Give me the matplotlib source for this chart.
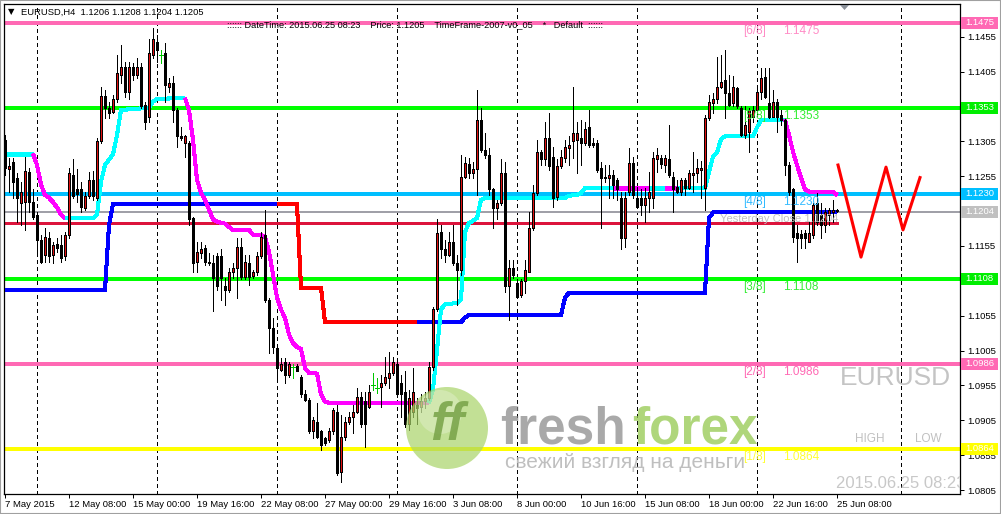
import matplotlib
matplotlib.use("Agg")
import matplotlib.pyplot as plt
import matplotlib.transforms as mtransforms
from matplotlib.patches import Rectangle, Circle, Polygon

W, H = 1001, 514

# ------------------------------------------------------------------ data
opens = [
    1.1307, 1.1266, 1.1276, 1.1253, 1.1217, 1.1218, 1.1261, 1.1218, 1.1200, 1.1164,
    1.1142, 1.1167, 1.1142, 1.1158, 1.1157, 1.1140, 1.1170, 1.1257, 1.1237, 1.1237,
    1.1210, 1.1227, 1.1249, 1.1224, 1.1305, 1.1370, 1.1353, 1.1347, 1.1365, 1.1400,
    1.1412, 1.1376, 1.1411, 1.1400, 1.1411, 1.1357, 1.1340, 1.1429, 1.1448, 1.1429,
    1.1432, 1.1383, 1.1389, 1.1350, 1.1313, 1.1303, 1.1303, 1.1195, 1.1132, 1.1145,
    1.1152, 1.1132, 1.1131, 1.1140, 1.1140, 1.1097, 1.1092, 1.1117, 1.1124, 1.1154,
    1.1111, 1.1131, 1.1112, 1.1117, 1.1140, 1.1171, 1.1078, 1.1038, 1.1009, 1.0977,
    1.0988, 1.0970, 1.0982, 1.0983, 1.0967, 1.0942, 1.0934, 1.0889, 1.0903, 1.0889,
    1.0880, 1.0877, 1.0889, 1.0917, 1.0831, 1.0881, 1.0903, 1.0909, 1.0917, 1.0939,
    1.0932, 1.0924, 1.0956, 1.0952, 1.0953, 1.0959, 1.0966, 1.0973, 1.0985, 1.0959,
    1.0946, 1.0899, 1.0917, 1.0927, 1.0924, 1.0932, 1.0937, 1.0982, 1.1064, 1.1175,
    1.1150, 1.1142, 1.1161, 1.1131, 1.1121, 1.1254, 1.1273, 1.1260, 1.1266, 1.1336,
    1.1293, 1.1286, 1.1236, 1.1210, 1.1217, 1.1259, 1.1097, 1.1124, 1.1102, 1.1085,
    1.1104, 1.1118, 1.1181, 1.1231, 1.1290, 1.1279, 1.1310, 1.1283, 1.1225, 1.1269,
    1.1281, 1.1296, 1.1305, 1.1307, 1.1310, 1.1303, 1.1326, 1.1303, 1.1303, 1.1267,
    1.1253, 1.1253, 1.1256, 1.1250, 1.1224, 1.1167, 1.1233, 1.1274, 1.1224, 1.1224,
    1.1214, 1.1224, 1.1224, 1.1279, 1.1281, 1.1271, 1.1280, 1.1254, 1.1240, 1.1233,
    1.1249, 1.1238, 1.1256, 1.1260, 1.1264, 1.1238, 1.1339, 1.1360, 1.1365, 1.1383,
    1.1393, 1.1375, 1.1360, 1.1382, 1.1353, 1.1314, 1.1319, 1.1340, 1.1350, 1.1376,
    1.1397, 1.1360, 1.1340, 1.1362, 1.1343, 1.1336, 1.1271, 1.1236, 1.1174, 1.1172,
    1.1174, 1.1161, 1.1171, 1.1217, 1.1200, 1.1185, 1.1200, 1.1203, 1.1206,
]
closes = [
    1.1267, 1.1269, 1.1246, 1.1224, 1.1233, 1.1263, 1.1218, 1.1197, 1.1164, 1.1132,
    1.1168, 1.1140, 1.1157, 1.1152, 1.1138, 1.1170, 1.1259, 1.1227, 1.1230, 1.1211,
    1.1227, 1.1249, 1.1227, 1.1306, 1.1370, 1.1353, 1.1346, 1.1365, 1.1403, 1.1412,
    1.1376, 1.1411, 1.1400, 1.1411, 1.1355, 1.1333, 1.1432, 1.1451, 1.1436, 1.1429,
    1.1386, 1.1389, 1.1350, 1.1312, 1.1310, 1.1312, 1.1193, 1.1131, 1.1147, 1.1150,
    1.1132, 1.1131, 1.1109, 1.1097, 1.1109, 1.1092, 1.1117, 1.1124, 1.1154, 1.1111,
    1.1132, 1.1111, 1.1117, 1.1140, 1.1168, 1.1078, 1.1038, 1.1010, 1.0980, 1.0985,
    1.0970, 1.0985, 1.0982, 1.0976, 1.0942, 1.0934, 1.0890, 1.0906, 1.0881, 1.0870,
    1.0873, 1.0889, 1.0920, 1.0830, 1.0881, 1.0903, 1.0910, 1.0917, 1.0939, 1.0899,
    1.0899, 1.0946, 1.0956, 1.0952, 1.0959, 1.0967, 1.0973, 1.0988, 1.0942, 1.0942,
    1.0899, 1.0937, 1.0946, 1.0923, 1.0932, 1.0937, 1.0982, 1.1064, 1.1174, 1.1150,
    1.1142, 1.1161, 1.1131, 1.1121, 1.1254, 1.1274, 1.1260, 1.1266, 1.1336, 1.1293,
    1.1286, 1.1236, 1.1210, 1.1217, 1.1259, 1.1097, 1.1124, 1.1114, 1.1082, 1.1104,
    1.1121, 1.1181, 1.1231, 1.1290, 1.1279, 1.1310, 1.1269, 1.1224, 1.1269, 1.1283,
    1.1297, 1.1300, 1.1317, 1.1317, 1.1303, 1.1322, 1.1300, 1.1300, 1.1264, 1.1253,
    1.1254, 1.1257, 1.1243, 1.1236, 1.1167, 1.1224, 1.1274, 1.1228, 1.1211, 1.1214,
    1.1224, 1.1233, 1.1281, 1.1286, 1.1273, 1.1281, 1.1257, 1.1236, 1.1233, 1.1249,
    1.1238, 1.1259, 1.1260, 1.1267, 1.1267, 1.1339, 1.1362, 1.1365, 1.1383, 1.1390,
    1.1375, 1.1357, 1.1383, 1.1355, 1.1314, 1.1329, 1.1350, 1.1350, 1.1376, 1.1396,
    1.1369, 1.1340, 1.1362, 1.1340, 1.1336, 1.1271, 1.1233, 1.1168, 1.1167, 1.1167,
    1.1167, 1.1174, 1.1214, 1.1190, 1.1185, 1.1203, 1.1207, 1.1207, 1.1205,
]
highs = [
    1.1314, 1.1281, 1.1281, 1.1260, 1.1247, 1.1283, 1.1267, 1.1236, 1.1204, 1.1171,
    1.1181, 1.1175, 1.1161, 1.1167, 1.1170, 1.1175, 1.1267, 1.1279, 1.1266, 1.1247,
    1.1233, 1.1261, 1.1263, 1.1310, 1.1383, 1.1379, 1.1362, 1.1372, 1.1429, 1.1443,
    1.1419, 1.1419, 1.1418, 1.1425, 1.1418, 1.1362, 1.1451, 1.1468, 1.1458, 1.1436,
    1.1446, 1.1396, 1.1398, 1.1353, 1.1325, 1.1314, 1.1306, 1.1197, 1.1160, 1.1160,
    1.1157, 1.1145, 1.1142, 1.1145, 1.1150, 1.1109, 1.1124, 1.1131, 1.1167, 1.1167,
    1.1142, 1.1142, 1.1121, 1.1147, 1.1175, 1.1207, 1.1081, 1.1052, 1.1013, 1.0995,
    1.0995, 1.0988, 1.0985, 1.0985, 1.0970, 1.0949, 1.0937, 1.0909, 1.0930, 1.0891,
    1.0881, 1.0894, 1.0923, 1.0927, 1.0913, 1.0909, 1.0917, 1.0927, 1.0952, 1.0946,
    1.0946, 1.0956, 1.0973, 1.0966, 1.0970, 1.0996, 1.1003, 1.0996, 1.0989, 1.0970,
    1.0975, 1.0949, 1.0980, 1.0937, 1.0942, 1.0946, 1.0989, 1.1068, 1.1193, 1.1185,
    1.1164, 1.1175, 1.1185, 1.1142, 1.1286, 1.1283, 1.1281, 1.1276, 1.1379, 1.1353,
    1.1317, 1.1296, 1.1238, 1.1221, 1.1279, 1.1276, 1.1135, 1.1135, 1.1107, 1.1107,
    1.1135, 1.1203, 1.1243, 1.1307, 1.1293, 1.1333, 1.1346, 1.1297, 1.1279, 1.1293,
    1.1307, 1.1312, 1.1383, 1.1333, 1.1336, 1.1333, 1.1350, 1.1310, 1.1307, 1.1276,
    1.1271, 1.1271, 1.1264, 1.1253, 1.1233, 1.1233, 1.1296, 1.1283, 1.1240, 1.1236,
    1.1238, 1.1261, 1.1289, 1.1296, 1.1286, 1.1286, 1.1329, 1.1261, 1.1250, 1.1253,
    1.1253, 1.1264, 1.1290, 1.1279, 1.1277, 1.1343, 1.1372, 1.1375, 1.1426, 1.1429,
    1.1436, 1.1400, 1.1398, 1.1383, 1.1355, 1.1355, 1.1353, 1.1355, 1.1383, 1.1410,
    1.1410, 1.1410, 1.1379, 1.1365, 1.1350, 1.1339, 1.1276, 1.1238, 1.1185, 1.1178,
    1.1178, 1.1189, 1.1217, 1.1231, 1.1217, 1.1210, 1.1210, 1.1221, 1.1208,
]
lows = [
    1.1256, 1.1233, 1.1224, 1.1190, 1.1185, 1.1178, 1.1204, 1.1194, 1.1147, 1.1131,
    1.1132, 1.1132, 1.1131, 1.1147, 1.1132, 1.1135, 1.1167, 1.1224, 1.1218, 1.1204,
    1.1207, 1.1224, 1.1221, 1.1221, 1.1303, 1.1339, 1.1339, 1.1346, 1.1362, 1.1389,
    1.1369, 1.1365, 1.1393, 1.1396, 1.1353, 1.1322, 1.1333, 1.1425, 1.1419, 1.1418,
    1.1362, 1.1376, 1.1332, 1.1297, 1.1307, 1.1283, 1.1185, 1.1118, 1.1118, 1.1138,
    1.1128, 1.1128, 1.1061, 1.1092, 1.1078, 1.1071, 1.1089, 1.1109, 1.1081, 1.1107,
    1.1107, 1.1099, 1.1109, 1.1114, 1.1138, 1.1075, 1.1002, 1.1002, 1.0966, 1.0975,
    1.0959, 1.0967, 1.0966, 1.0975, 1.0939, 1.0932, 1.0887, 1.0880, 1.0880, 1.0863,
    1.0870, 1.0874, 1.0886, 1.0827, 1.0817, 1.0877, 1.0899, 1.0887, 1.0916, 1.0896,
    1.0866, 1.0923, 1.0949, 1.0944, 1.0924, 1.0956, 1.0952, 1.0970, 1.0939, 1.0909,
    1.0896, 1.0891, 1.0909, 1.0899, 1.0917, 1.0923, 1.0934, 1.0977, 1.1061, 1.1138,
    1.1132, 1.1140, 1.1128, 1.1071, 1.1114, 1.1253, 1.1253, 1.1253, 1.1228, 1.1290,
    1.1281, 1.1228, 1.1181, 1.1193, 1.1214, 1.1089, 1.1049, 1.1109, 1.1081, 1.1082,
    1.1088, 1.1117, 1.1178, 1.1228, 1.1271, 1.1271, 1.1264, 1.1211, 1.1221, 1.1267,
    1.1276, 1.1271, 1.1281, 1.1260, 1.1271, 1.1300, 1.1297, 1.1297, 1.1261, 1.1181,
    1.1247, 1.1224, 1.1224, 1.1221, 1.1150, 1.1154, 1.1228, 1.1224, 1.1210, 1.1200,
    1.1190, 1.1204, 1.1210, 1.1261, 1.1267, 1.1261, 1.1254, 1.1204, 1.1231, 1.1228,
    1.1228, 1.1236, 1.1233, 1.1247, 1.1224, 1.1207, 1.1336, 1.1346, 1.1360, 1.1382,
    1.1339, 1.1355, 1.1355, 1.1353, 1.1312, 1.1310, 1.1290, 1.1333, 1.1347, 1.1365,
    1.1367, 1.1339, 1.1340, 1.1319, 1.1329, 1.1257, 1.1228, 1.1160, 1.1132, 1.1152,
    1.1152, 1.1160, 1.1167, 1.1185, 1.1167, 1.1175, 1.1185, 1.1190, 1.1204,
]

# trend indicator (cyan = up, magenta = down); flag applies to segment ending at vertex
trend_x = [0, 7, 8, 9, 10, 11, 12, 13, 14, 15,
           22, 23, 24, 25, 26, 27, 28, 29, 36, 37, 38, 45,
           46, 47, 48, 49, 50, 51, 52, 53, 54, 55, 56, 57, 61, 62, 64, 65, 66, 67, 68, 69,
           70, 71, 72, 73, 74, 75, 76, 78, 79, 80, 81, 106,
           107, 108, 109, 110, 111, 113, 114, 115, 116, 117, 118, 119, 120, 140, 141, 143,
           144, 145, 152, 161, 165, 168,
           175, 176, 177, 178, 179, 180, 187, 188, 189, 190, 195,
           196, 197, 198, 199, 200, 201, 207, 208]
trend_y = [1.1287, 1.1287, 1.1271, 1.1243, 1.1228, 1.1224, 1.1218, 1.1210, 1.1200, 1.1195,
           1.1195, 1.1200, 1.1247, 1.1271, 1.1279, 1.1286, 1.1314, 1.1350, 1.1353, 1.1362, 1.1366, 1.1367,
           1.1350, 1.1307, 1.1250, 1.1231, 1.1221, 1.1207, 1.1193, 1.1190, 1.1188, 1.1187, 1.1182,
           1.1178, 1.1178, 1.1171, 1.1171, 1.1168, 1.1147, 1.1114, 1.1081, 1.1064,
           1.1052, 1.1028, 1.1016, 1.1010, 1.1007, 1.0980, 1.0973, 1.0972, 1.0942, 1.0932, 1.0930, 1.0930,
           1.0949, 1.1006, 1.1064, 1.1071, 1.1072, 1.1073, 1.1078, 1.1175, 1.1188, 1.1191, 1.1195,
           1.1221, 1.1224, 1.1224, 1.1227, 1.1228,
           1.1231, 1.1238, 1.1238, 1.1238, 1.1238, 1.1238,
           1.1238, 1.1261, 1.1283, 1.1289, 1.1308, 1.1312, 1.1312, 1.1325, 1.1335, 1.1336, 1.1336,
           1.1314, 1.1290, 1.1271, 1.1253, 1.1236, 1.1233, 1.1233, 1.1228]
trend_up = [1, 1, 0, 0, 0, 0, 0, 0, 0, 0,
            1, 1, 1, 1, 1, 1, 1, 1, 1, 1, 1, 1,
            0, 0, 0, 0, 0, 0, 0, 0, 0, 0, 0, 0, 0, 0, 0, 0, 0, 0, 0, 0,
            0, 0, 0, 0, 0, 0, 0, 0, 0, 0, 0, 0,
            1, 1, 1, 1, 1, 1, 1, 1, 1, 1, 1, 1, 1, 1, 1, 1,
            1, 1, 1, 0, 1, 0,
            1, 1, 1, 1, 1, 1, 1, 1, 1, 1, 1,
            0, 0, 0, 0, 0, 0, 0, 0]

# stop line (blue = up, red = down)
stop_x = [0, 25, 26, 27, 68, 73, 74, 79, 80, 103, 114, 115, 116, 139, 140, 141, 175, 176, 177, 208]
stop_y = [1.1092, 1.1092, 1.1185, 1.1215, 1.1215, 1.1215, 1.1095, 1.1095, 1.1046, 1.1046,
          1.1046, 1.1052, 1.1056, 1.1056, 1.1081, 1.1088, 1.1088, 1.1195, 1.1203, 1.1203]
stop_up = [1, 1, 1, 1, 1, 0, 0, 0, 0, 0, 1, 1, 1, 1, 1, 1, 1, 1, 1, 1]

# projected zigzag
zig_x = [208.25, 214, 220.25, 224.5, 228.75]
zig_y = [1.1271, 1.1139, 1.1268, 1.1178, 1.1253]

# Murrey levels
level_prices = [1.1475, 1.1353, 1.1230, 1.1108, 1.0986, 1.0864]
level_names = ['[6/8]', '[5/8]', '[4/8]', '[3/8]', '[2/8]', '[1/8]']
level_colors = ['#ff69b4', '#00ff00', '#00bfff', '#00ff00', '#ff69b4', '#ffff00']
label_colors = ['#ff8cc6', '#33ee33', '#33bbff', '#33ee33', '#ff69b4', '#ffff33']
yesterday_close = 1.1204
pivot_line = 1.1188

xtick_pos = [0, 16, 32, 48, 64, 80, 96, 112, 128, 144, 160, 176, 192, 208]
xtick_labels = ['7 May 2015', '12 May 08:00', '15 May 00:00', '19 May 16:00', '22 May 08:00',
                '27 May 00:00', '29 May 16:00', '3 Jun 08:00', '8 Jun 00:00', '10 Jun 16:00',
                '15 Jun 08:00', '18 Jun 00:00', '22 Jun 16:00', '25 Jun 08:00']
ytick_pos = [1.1455, 1.1405, 1.1355, 1.1305, 1.1255, 1.1205, 1.1155, 1.1105, 1.1055,
             1.1005, 1.0955, 1.0905, 1.0855, 1.0805]
ytick_hidden = [1.1355, 1.1205, 1.1105]   # covered by the price boxes
week_grid = [8, 38, 68, 98, 128, 158, 188, 224]

# ------------------------------------------------------------------ figure
plt.rcParams['font.family'] = ['Liberation Sans', 'DejaVu Sans']
fig = plt.figure(figsize=(W / 100, H / 100), dpi=100)
fig.patch.set_facecolor('white')
AL, AR, AT, AB = 4, 960, 4, 494
ax = fig.add_axes([AL / W, 1 - AB / H, (AR - AL) / W, (AB - AT) / H])
ax.set_xlim(-0.25, 238.75)
ax.set_ylim(1.07993, 1.15019)
ax.set_facecolor('white')
for sp in ax.spines.values():
    sp.set_linewidth(0.9)
    sp.set_color('black')

PX = 0.72  # one pixel in points

# weekly dashed grid
for gx in week_grid:
    ax.axvline(gx, color='black', lw=PX, ls=(0, (4, 4)), zorder=1, antialiased=False)

# horizontal levels
for p, c in zip(level_prices, level_colors):
    ax.axhline(p, color=c, lw=1.6, zorder=2, antialiased=False)
ax.axhline(yesterday_close, color='#a0a0a8', lw=1.3, zorder=2, antialiased=False)
ax.plot([-0.25, 208.25], [pivot_line, pivot_line], color='#dc143c', lw=2.0, zorder=2,
        antialiased=False, solid_capstyle='butt')


def draw_runs(xs, ys, flags, col_up, col_dn, lw, z):
    n = len(xs)
    k = 1
    while k < n:
        f = flags[k]
        run_x = [xs[k - 1]]
        run_y = [ys[k - 1]]
        while k < n and flags[k] == f:
            run_x.append(xs[k])
            run_y.append(ys[k])
            k += 1
        ax.plot(run_x, run_y, color=col_up if f else col_dn, lw=lw, zorder=z,
                solid_joinstyle='miter', solid_capstyle='butt', antialiased=False)


draw_runs(stop_x, stop_y, stop_up, '#0000ff', '#ff0000', 2.2, 3)
draw_runs(trend_x, trend_y, trend_up, '#00ffff', '#ff00ff', 2.2, 3)
ax.plot(zig_x, zig_y, color='#ff0000', lw=2.2, zorder=3, antialiased=True)

# candles
for i, (o, h, l, c) in enumerate(zip(opens, highs, lows, closes)):
    if abs(c - o) < 1e-9:
        ax.vlines(i, l, h, color='#00c800', lw=PX, zorder=5, antialiased=False)
        ax.hlines(c, i - 0.5, i + 0.5, color='#00c800', lw=PX, zorder=5, antialiased=False)
        continue
    ax.vlines(i, l, h, color='black', lw=PX, zorder=4, antialiased=False)
    fill = '#e01010' if c > o else 'black'
    ax.bar(i, abs(c - o), bottom=min(o, c), width=0.65, color=fill, edgecolor='black',
           linewidth=PX, zorder=5, antialiased=False)

# level texts
off_lab = mtransforms.offset_copy(ax.transData, fig=fig, x=0, y=-8, units='dots')
for p, nm, c in zip(level_prices, level_names, label_colors):
    ax.text(184.5, p, nm, color=c, fontsize=8.5, ha='left', va='center', transform=off_lab, zorder=6)
    ax.text(194.5, p, '%.4f' % p, color=c, fontsize=8.5, ha='left', va='center', transform=off_lab, zorder=6)
off_yc = mtransforms.offset_copy(ax.transData, fig=fig, x=0, y=-7, units='dots')
ax.text(178.75, yesterday_close, 'Yesterday Close %.4f' % yesterday_close, color='#c0c0c0',
        fontsize=8, ha='left', va='center', transform=off_yc, zorder=6)

# axes ticks
ax.set_xticks(xtick_pos)
ax.set_xticklabels(xtick_labels)
for t in ax.get_xticklabels():
    t.set_ha('left')
ax.tick_params(axis='x', length=3, width=PX, labelsize=6.8, pad=1.5, direction='out')
ax.yaxis.tick_right()
ax.set_yticks(ytick_pos)
ax.set_yticklabels(['' if v in ytick_hidden else '%.4f' % v for v in ytick_pos])
ax.tick_params(axis='y', length=3, width=PX, labelsize=6.8, pad=2, direction='out')

# right price boxes
box_prices = [1.1475, 1.1353, 1.1230, yesterday_close, 1.1108, 1.0986, 1.0864]
box_colors = ['#ff69b4', '#00ee00', '#00bfff', '#c0c0c0', '#00ee00', '#ff69b4', '#ffff00']
blend = mtransforms.blended_transform_factory(fig.transFigure, ax.transData)
bh = 12 * 0.0001434
for p, c in zip(box_prices, box_colors):
    fig.add_artist(Rectangle((961 / W, p - bh / 2), 37 / W, bh, transform=blend,
                             facecolor=c, edgecolor='none', zorder=5))
    fig.text(965 / W, p, '%.4f' % p, transform=blend, color='white', fontsize=6.8,
             ha='left', va='center', zorder=6)


def ftext(x, y, s, **kw):
    fig.text(x / W, 1 - y / H, s, **kw)


# top header texts
ftext(8, 12, '\u25bc', fontsize=6, color='black', va='center', family='DejaVu Sans')
ftext(21, 12, 'EURUSD,H4  1.1206 1.1208 1.1204 1.1205', fontsize=6.75, color='black', va='center')
ftext(227, 25, ':::::: DateTime: 2015.06.25 08:23    Price: 1.1205    TimeFrame-2007-v0_05    '
      '*   Default  ::::::', fontsize=6.6, color='black', va='center')
fig.add_artist(Polygon([[840 / W, 1 - 5 / H], [849 / W, 1 - 5 / H], [844.5 / W, 1 - 10 / H]],
                       closed=True, transform=fig.transFigure, facecolor='#8a9099',
                       edgecolor='none', zorder=6))

# right-side info texts
ftext(840, 378, 'EURUSD', fontsize=19, color='#c4c4c4', va='center')
ftext(855, 439, 'HIGH', fontsize=8.5, color='#c0c0c0', va='center')
ftext(915, 439, 'LOW', fontsize=8.5, color='#c0c0c0', va='center')
ax.text(0.870, 1 - (483 - AT) / (AB - AT), '2015.06.25 08:23', transform=ax.transAxes,
        fontsize=12, color='#c8c8c8', va='center', ha='left', clip_on=True, zorder=6)

# watermark
fig.add_artist(Circle((447, H - 428), 41, transform=mtransforms.IdentityTransform(),
                      facecolor='#a8d468', edgecolor='none', alpha=0.7, zorder=7))
fig.add_artist(Circle((440, H - 412), 22, transform=mtransforms.IdentityTransform(),
                      facecolor='white', edgecolor='none', alpha=0.25, zorder=7))
ftext(447, 426, 'ff', fontsize=38, fontweight='bold', style='italic', color='#77a247',
      ha='center', va='center', alpha=0.85, zorder=8)
ftext(500, 430, 'fresh', fontsize=37, fontweight='bold', color='#858585', va='center', alpha=0.7, zorder=8)
ftext(632, 430, 'forex', fontsize=37, fontweight='bold', color='#94c94f', va='center', alpha=0.75, zorder=8)
ftext(505, 462, 'свежий взгляд на деньги', fontsize=15, color='#b0b0b0', va='center', alpha=0.8, zorder=8)

# outer frame
fig.add_artist(Rectangle((0, 0), 1, 1, transform=fig.transFigure, fill=False,
                         edgecolor='#a0a0a0', lw=1.5, zorder=10))

fig.savefig('out.png', dpi=100, facecolor='white')
